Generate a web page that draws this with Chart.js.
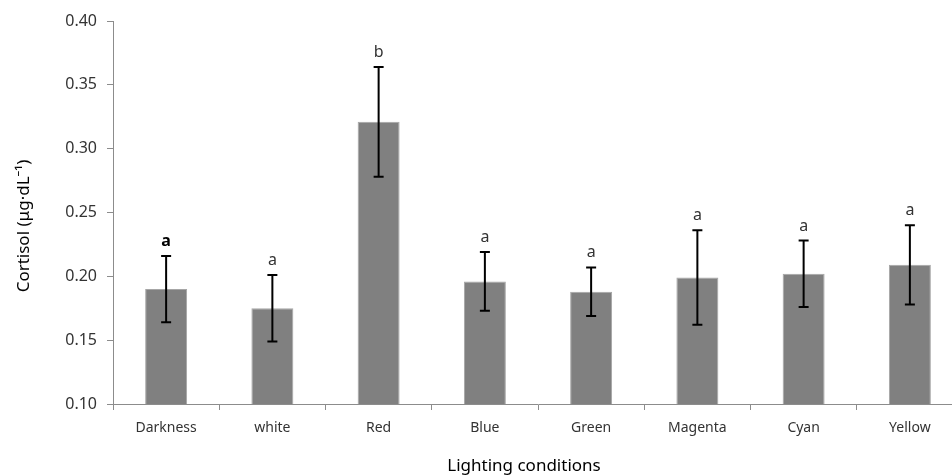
<!DOCTYPE html>
<html>
<head>
<meta charset="utf-8">
<script src="https://cdn.jsdelivr.net/npm/chart.js@4"></script>
<style>
  html, body { margin: 0; padding: 0; background: #fff; overflow: hidden; }
  #wrap { width: 952px; height: 476px; overflow: hidden; }
</style>
</head>
<body>
<div id="wrap"><canvas id="cortisol-chart" width="980" height="476"></canvas></div>
<script>
// Cortisol level per lighting condition (mean and standard error)
const conditions = ['Darkness', 'white', 'Red', 'Blue', 'Green', 'Magenta', 'Cyan', 'Yellow'];
const cortisolMean = [0.190, 0.175, 0.321, 0.196, 0.188, 0.199, 0.202, 0.209];
const cortisolErr = [0.026, 0.026, 0.043, 0.023, 0.019, 0.037, 0.026, 0.031];
const groupLetters = ['a', 'a', 'b', 'a', 'a', 'a', 'a', 'a'];
const letterBold = [true, false, false, false, false, false, false, false];
const xTitle = 'Lighting conditions';
const yTitle = 'Cortisol (μg·dL⁻¹)';

const fontFamily = '"Noto Sans", "Open Sans", sans-serif';
const axisColor = '#8c8c8c';

// Draw the error bars and significance letters on top of the bars
const errorBarPlugin = {
  id: 'errorBars',
  afterDatasetsDraw(chart) {
    const ctx = chart.ctx;
    const yScale = chart.scales.y;
    const meta = chart.getDatasetMeta(0);
    ctx.save();
    meta.data.forEach((bar, i) => {
      const x = bar.x;
      const top = yScale.getPixelForValue(cortisolMean[i] + cortisolErr[i]);
      const bottom = yScale.getPixelForValue(cortisolMean[i] - cortisolErr[i]);
      ctx.strokeStyle = '#000';
      ctx.lineWidth = 2;
      ctx.beginPath();
      ctx.moveTo(x, top);
      ctx.lineTo(x, bottom);
      ctx.moveTo(x - 5, top);
      ctx.lineTo(x + 5, top);
      ctx.moveTo(x - 5, bottom);
      ctx.lineTo(x + 5, bottom);
      ctx.stroke();

      ctx.fillStyle = letterBold[i] ? '#000' : '#333';
      ctx.font = (letterBold[i] ? 'bold ' : '') + '16px ' + fontFamily;
      ctx.textAlign = 'center';
      ctx.textBaseline = 'alphabetic';
      ctx.fillText(groupLetters[i], x, top - 10);
    });
    ctx.restore();
  }
};

// Axis titles, placed like the original figure
const axisTitlePlugin = {
  id: 'axisTitles',
  afterDraw(chart) {
    const ctx = chart.ctx;
    ctx.save();
    ctx.fillStyle = '#000';
    ctx.font = '17px ' + fontFamily;
    ctx.textAlign = 'center';
    ctx.textBaseline = 'middle';
    ctx.fillText(xTitle, 524, 466);
    ctx.translate(24, 226);
    ctx.rotate(-Math.PI / 2);
    ctx.fillText(yTitle, 0, 0);
    ctx.restore();
  }
};

const ctx = document.getElementById('cortisol-chart').getContext('2d');
const chartInstance = new Chart(ctx, {
  type: 'bar',
  data: {
    labels: conditions,
    datasets: [{
      label: 'Cortisol',
      data: cortisolMean,
      backgroundColor: '#808080',
      borderColor: '#a6a6a6',
      borderWidth: 1,
      categoryPercentage: 1,
      barPercentage: 0.395
    }]
  },
  options: {
    responsive: false,
    animation: false,
    layout: { padding: { top: 21, right: 17, left: 0, bottom: 0 } },
    plugins: {
      legend: { display: false },
      tooltip: { enabled: false }
    },
    scales: {
      x: {
        grid: { display: true, drawOnChartArea: false, offset: true, tickLength: 6, color: axisColor },
        border: { color: axisColor, width: 1 },
        ticks: { color: '#333', font: { family: fontFamily, size: 14 }, padding: 10, maxRotation: 0 },
        afterFit(scale) { scale.height = 72; }
      },
      y: {
        min: 0.10,
        max: 0.40,
        grid: { display: true, drawOnChartArea: false, tickLength: 6, color: axisColor },
        border: { color: axisColor, width: 1 },
        ticks: {
          stepSize: 0.05,
          color: '#333',
          font: { family: fontFamily, size: 16 },
          padding: 10,
          callback: (v) => v.toFixed(2)
        },
        afterFit(scale) { scale.width = 113; }
      }
    }
  },
  plugins: [errorBarPlugin, axisTitlePlugin]
});
</script>
</body>
</html>
